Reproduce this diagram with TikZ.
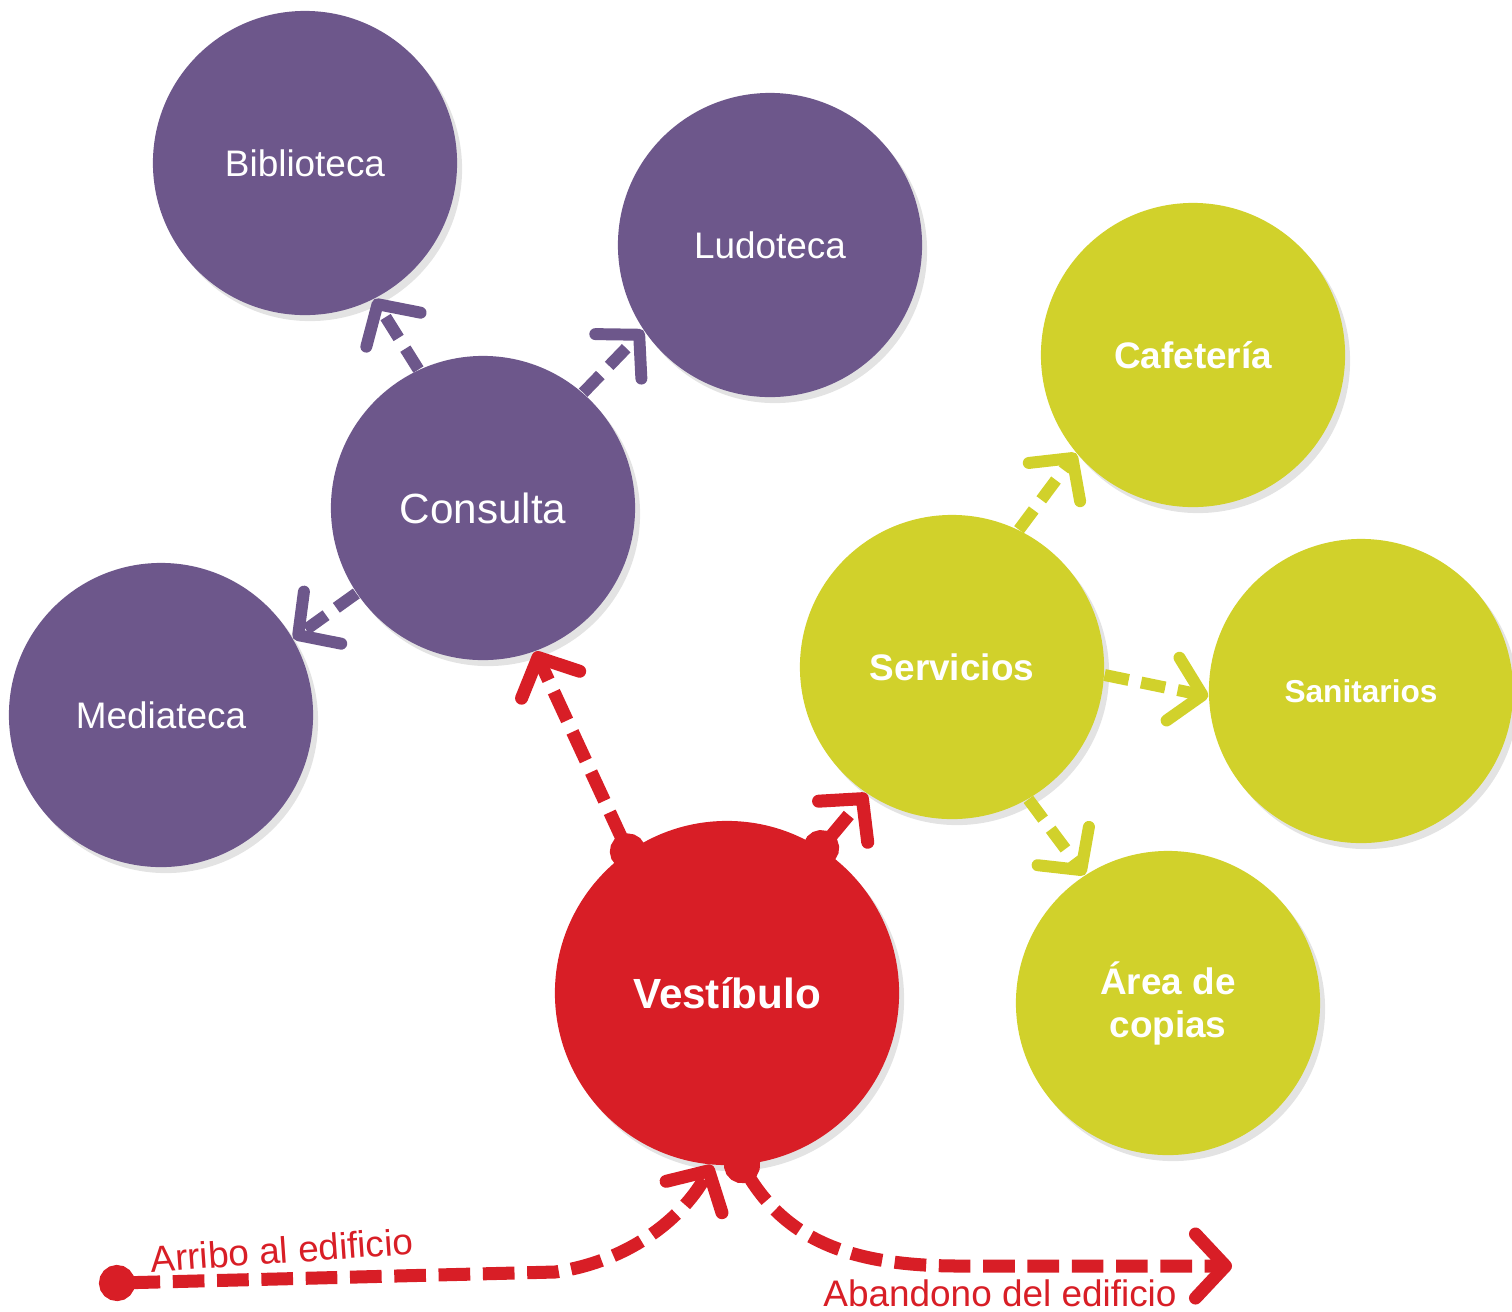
\documentclass[tikz,border=0pt]{standalone}
\usepackage{fontspec}
\setmainfont{Liberation Sans}
\usetikzlibrary{arrows.meta,shadows}
\definecolor{morado}{RGB}{109,87,139}
\definecolor{verde}{RGB}{209,209,43}
\definecolor{rojo}{RGB}{216,30,38}

\begin{document}
\begin{tikzpicture}
  [x=0.01cm, y=-0.01cm,
   zona/.style={circle, minimum size=3.04cm, inner sep=0pt, text=white, align=center,
     font=\fontsize{10.5}{12.2}\selectfont,
     drop shadow={opacity=0.22, shadow xshift=0.5mm, shadow yshift=-0.6mm}},
   flecha/.style={line width=3.4pt, dash pattern=on 7pt off 3.6pt,
     -{Straight Barb[length=3mm, width=6.4mm, round]}},
   punto/.style={line width=3.7pt, dash pattern=on 9pt off 3.6pt, shorten <=-1.8mm,
     {Circle[length=3.6mm, width=3.6mm]}-{Straight Barb[length=3mm, width=6.4mm, round]}},
   rotulo/.style={text=rojo, inner sep=0pt, font=\fontsize{10.5}{12}\selectfont}]
  \useasboundingbox (0,0) rectangle (1512,1311);

  % consulta
  \node[zona, fill=morado] (bib) at (305,163) {Biblioteca};
  \node[zona, fill=morado] (ludo) at (770,245) {Ludoteca};
  \node[zona, fill=morado, font=\fontsize{12}{14}\selectfont] (cons) at (483,508) {Consulta};
  \node[zona, fill=morado] (media) at (161,715) {Mediateca};

  % servicios
  \node[zona, fill=verde, font=\fontsize{10.5}{12.2}\selectfont\bfseries] (cafe) at (1193,355) {Cafetería};
  \node[zona, fill=verde, font=\fontsize{10.5}{12.2}\selectfont\bfseries] (serv) at (952,667) {Servicios};
  \node[zona, fill=verde, font=\fontsize{9}{11}\selectfont\bfseries] (sani) at (1361,691) {Sanitarios};
  \node[zona, fill=verde, font=\fontsize{10.5}{12.2}\selectfont\bfseries] (copias) at (1168,1003) {Área de\\copias};

  \node[zona, fill=rojo, minimum size=3.44cm, font=\fontsize{12}{14}\selectfont\bfseries] (vest) at (727,993) {Vestíbulo};

  \coordinate (arribo) at (117,1283);
  \coordinate (salida) at (1232,1266);

  \draw[flecha, morado] (cons.115) -- (bib.-63);
  \draw[flecha, morado] (cons.49) -- (ludo.214);
  \draw[flecha, morado] (cons.214) -- (media.30);

  \draw[flecha, verde] (serv.64) -- (cafe.220);
  \draw[flecha, verde] (serv.-3) -- (sani.182);
  \draw[flecha, verde] (serv.-60) -- (copias.123);

  \draw[punto, rojo] (vest.125) -- (cons.-70);
  \draw[punto, rojo] (vest.57) -- (serv.236);
  \draw[punto, rojo] (arribo) -- (555,1272) .. controls (625,1262) and (680,1222) .. (vest.-95);
  \draw[punto, rojo] (vest.-85) .. controls (790,1245) and (860,1266) .. (960,1266) -- (salida);

  \node[rotulo, rotate=4] (txtarribo) at (282,1250) {Arribo al edificio};
  \node[rotulo] (txtabandono) at (1000,1293) {Abandono del edificio};
\end{tikzpicture}
\end{document}
